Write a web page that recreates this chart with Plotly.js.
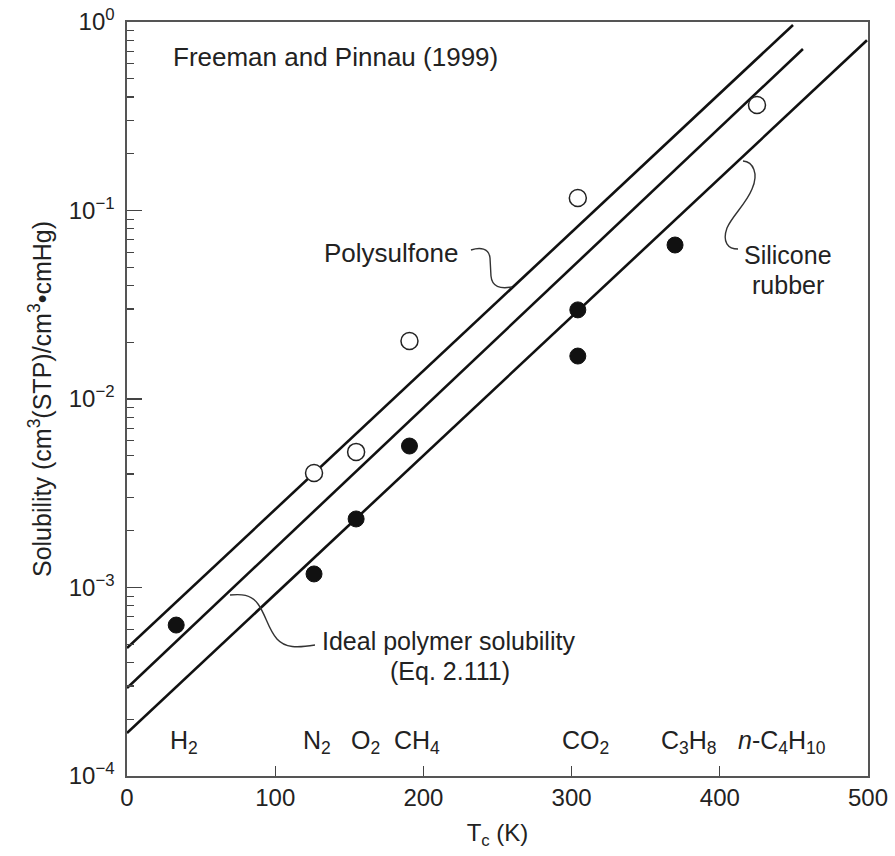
<!DOCTYPE html>
<html>
<head>
<meta charset="utf-8">
<script src="https://cdn.plot.ly/plotly-3.0.1.min.js"></script>
<style>html,body{margin:0;padding:0;background:#fff;}#chart{width:895px;height:856px;}</style>
</head>
<body>
<div id="chart"></div>
<script>
// ---- data ----
// Polysulfone (open circles)
var psfTc = [126.2, 154.6, 190.6, 304.2, 425.1];
var psfS  = [0.00405, 0.00524, 0.0203, 0.1165, 0.363];
// Silicone rubber (filled circles)
var silTc = [33.2, 126.2, 154.6, 190.6, 304.2, 304.2, 369.8];
var silS  = [0.000632, 0.00118, 0.00231, 0.00563, 0.0297, 0.0169, 0.0656];
// Correlation lines (end points)
var psfLineTc   = [0, 449.4];
var psfLineS    = [0.000477, 0.964];
var idealLineTc = [0, 456.1];
var idealLineS  = [0.000293, 0.719];
var silLineTc   = [0, 499.3];
var silLineS    = [0.000169, 0.80];
// Gas labels
var gasNames = ["H<sub>2</sub>", "N<sub>2</sub>", "O<sub>2</sub>", "CH<sub>4</sub>", "CO<sub>2</sub>", "C<sub>3</sub>H<sub>8</sub>", "<i>n</i>-C<sub>4</sub>H<sub>10</sub>"];
var gasLabelX = [38.5, 128.2, 161, 195.7, 309.7, 379, 442];
// Axis ticks
var yTickVals = [1e-4, 1e-3, 1e-2, 1e-1, 1];
var yTickText = ["10<sup>\u22124</sup>", "10<sup>\u22123</sup>", "10<sup>\u22122</sup>", "10<sup>\u22121</sup>", "10<sup>0</sup>"];
var xTickVals = [0, 100, 200, 300, 400, 500];

// ---- helpers ----
var FONT = "Liberation Sans, Arial, Helvetica, sans-serif";
var L = 127, R = 868, T = 22, B = 776;
function P(px, py) { return ((px - L) / (R - L)).toFixed(4) + "," + ((B - py) / (B - T)).toFixed(4); }
function xp(px) { return (px - L) / (R - L); }
function yp(py) { return (B - py) / (B - T); }

var minorVals = [];
for (var d = -4; d < 0; d++) { for (var m = 2; m <= 9; m++) { minorVals.push(m * Math.pow(10, d)); } }

var lineStyle = {color: "#111", width: 2.6};
var traces = [
  {x: psfLineTc, y: psfLineS, mode: "lines", line: lineStyle, hoverinfo: "skip", name: "Polysulfone"},
  {x: idealLineTc, y: idealLineS, mode: "lines", line: lineStyle, hoverinfo: "skip", name: "Ideal"},
  {x: silLineTc, y: silLineS, mode: "lines", line: lineStyle, hoverinfo: "skip", name: "Silicone rubber"},
  {x: psfTc, y: psfS, mode: "markers", name: "Polysulfone data",
   marker: {symbol: "circle", size: 17, color: "#fff", line: {color: "#222", width: 1.5}}},
  {x: silTc, y: silS, mode: "markers", name: "Silicone data",
   marker: {symbol: "circle", size: 16, color: "#111", line: {color: "#111", width: 1}}}
];

var annFont = {family: FONT, size: 26, color: "#222"};
var annFont2 = {family: FONT, size: 25, color: "#222"};
var annotations = [
  {xref: "paper", yref: "paper", x: xp(171), y: yp(57), xanchor: "left", yanchor: "middle", text: "Freeman and Pinnau (1999)", showarrow: false, font: annFont},
  {xref: "paper", yref: "paper", x: xp(460), y: yp(253), xanchor: "right", yanchor: "middle", text: "Polysulfone", showarrow: false, font: annFont},
  {xref: "paper", yref: "paper", x: xp(788), y: yp(255), xanchor: "center", yanchor: "middle", text: "Silicone", showarrow: false, font: annFont2},
  {xref: "paper", yref: "paper", x: xp(788), y: yp(285), xanchor: "center", yanchor: "middle", text: "rubber", showarrow: false, font: annFont2},
  {xref: "paper", yref: "paper", x: xp(320), y: yp(641), xanchor: "left", yanchor: "middle", text: "Ideal polymer solubility", showarrow: false, font: annFont2},
  {xref: "paper", yref: "paper", x: xp(450), y: yp(671), xanchor: "center", yanchor: "middle", text: "(Eq. 2.111)", showarrow: false, font: annFont2}
];
for (var i = 0; i < gasNames.length; i++) {
  annotations.push({xref: "x", yref: "paper", x: gasLabelX[i], y: yp(742), xanchor: "center", yanchor: "middle",
    text: gasNames[i], showarrow: false, font: {family: FONT, size: 25, color: "#222"}});
}

var curl = {color: "#333", width: 1.4};
var shapes = [
  {type: "path", xref: "paper", yref: "paper", line: curl,
   path: "M" + P(471, 250) + " C" + P(480, 247) + " " + P(489, 248) + " " + P(490, 258) + " L" + P(491, 276) + " C" + P(492, 287) + " " + P(500, 289) + " " + P(512, 287)},
  {type: "path", xref: "paper", yref: "paper", line: curl,
   path: "M" + P(743, 161) + " C" + P(753, 162) + " " + P(759, 173) + " " + P(752, 189) + " C" + P(746, 204) + " " + P(732, 216) + " " + P(727, 228) + " C" + P(722, 242) + " " + P(728, 249) + " " + P(738, 249)},
  {type: "path", xref: "paper", yref: "paper", line: curl,
   path: "M" + P(230, 595) + " C" + P(241, 594) + " " + P(251, 594) + " " + P(258, 604) + " C" + P(266, 615) + " " + P(268, 629) + " " + P(277, 639) + " C" + P(285, 648) + " " + P(297, 648) + " " + P(315, 645)}
];

var layout = {
  width: 895, height: 856,
  margin: {l: L, r: 895 - R, t: T, b: 856 - B, pad: 0},
  paper_bgcolor: "#fff", plot_bgcolor: "#fff",
  showlegend: false,
  font: {family: FONT, color: "#222"},
  xaxis: {
    range: [0, 500], tickvals: xTickVals, ticks: "inside", ticklen: 10, tickwidth: 1.3, tickcolor: "#444",
    showline: true, linecolor: "#555", linewidth: 1.6, mirror: true, showgrid: false, zeroline: false,
    tickfont: {family: FONT, size: 24, color: "#222"},
    title: {text: "T<sub>c</sub> (K)", font: {family: FONT, size: 24, color: "#222"}, standoff: 14}
  },
  yaxis: {
    type: "log", range: [-4, 0], tickvals: yTickVals, ticktext: yTickText,
    ticks: "inside", ticklen: 15, tickwidth: 1.3, tickcolor: "#444",
    minor: {tickvals: minorVals, ticks: "inside", ticklen: 7, tickwidth: 1.2, tickcolor: "#444", showgrid: false},
    showline: true, linecolor: "#555", linewidth: 1.6, mirror: true, showgrid: false, zeroline: false,
    tickfont: {family: FONT, size: 24, color: "#222"},
    ticklabelstandoff: 6,
    title: {text: "Solubility (cm<sup>3</sup>(STP)/cm<sup>3</sup>\u2022cmHg)", font: {family: FONT, size: 25, color: "#222"}, standoff: 10}
  },
  annotations: annotations,
  shapes: shapes
};

Plotly.newPlot("chart", traces, layout, {staticPlot: true, displayModeBar: false});
</script>
</body>
</html>
